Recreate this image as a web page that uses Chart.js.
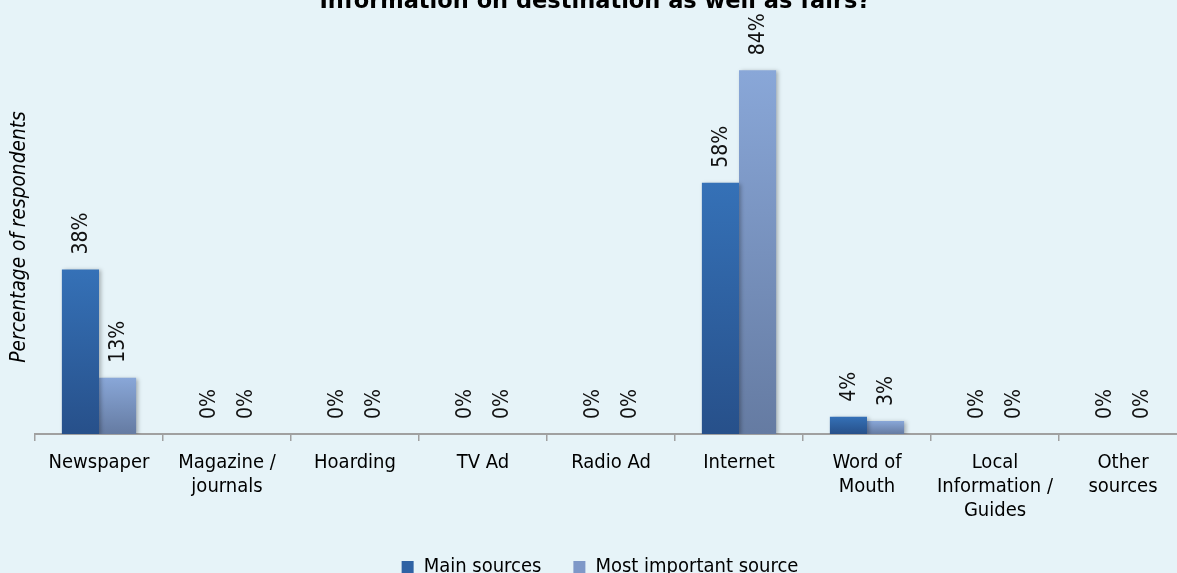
<!DOCTYPE html>
<html>
<head>
<meta charset="utf-8">
<script src="https://cdn.jsdelivr.net/npm/chart.js@4/dist/chart.umd.min.js"></script>
<style>
  html, body { margin: 0; padding: 0; overflow: hidden; background: #E6F3F8; }
  #wrap { position: absolute; left: 0; top: 0; }
  canvas { display: block; }
</style>
</head>
<body>
<div id="wrap"><canvas id="chart" width="1200" height="585"></canvas></div>
<script>
// Source categories (multi-line tick labels)
const categories = [
  ['Newspaper'],
  ['Magazine /', 'journals'],
  ['Hoarding'],
  ['TV Ad'],
  ['Radio Ad'],
  ['Internet'],
  ['Word of', 'Mouth'],
  ['Local', 'Information /', 'Guides'],
  ['Other', 'sources']
];
// Percentage of respondents per source
const mainSources   = [38, 0, 0, 0, 0, 58, 4, 0, 0];
const mostImportant = [13, 0, 0, 0, 0, 84, 3, 0, 0];
const seriesNames = ['Main sources', 'Most important source'];
const yAxisTitle = 'Percentage of respondents';
const chartTitle = 'Information on destination as well as fairs?';

const FONT = "'DejaVu Sans Condensed', 'DejaVu Sans', sans-serif";

// Vertical gradient spanning each bar's own height
function barGradient(topColor, bottomColor) {
  return function (ctx) {
    const chart = ctx.chart;
    const y = chart.scales && chart.scales.y;
    if (ctx.type !== 'data' || !y) return topColor;
    const y0 = y.getPixelForValue(0);
    const y1 = y.getPixelForValue(ctx.raw);
    if (Math.abs(y0 - y1) < 1) return topColor;
    const g = chart.ctx.createLinearGradient(0, y1, 0, y0);
    g.addColorStop(0, topColor);
    g.addColorStop(1, bottomColor);
    return g;
  };
}

// Bar shadows, rotated value labels, chart title and y-axis title
const decorations = {
  id: 'decorations',
  afterLayout(chart) {
    // centre the legend on the whole figure rather than the plot area
    const lg = chart.legend;
    if (lg) {
      lg.left -= 11; lg.right -= 11;
      lg.top += 2; lg.bottom += 2;
    }
  },
  beforeDatasetsDraw(chart) {
    const c = chart.ctx;
    c.save();
    c.shadowColor = 'rgba(0,0,0,0.28)';
    c.shadowBlur = 4;
    c.shadowOffsetX = 2;
    c.shadowOffsetY = 1;
  },
  afterDatasetsDraw(chart) {
    const c = chart.ctx;
    c.restore();
    c.save();
    c.fillStyle = '#111';
    c.font = '21px ' + FONT;
    c.textAlign = 'left';
    c.textBaseline = 'middle';
    chart.data.datasets.forEach((ds, di) => {
      const meta = chart.getDatasetMeta(di);
      meta.data.forEach((bar, i) => {
        c.save();
        c.translate(bar.x, bar.y - 15);
        c.rotate(-Math.PI / 2);
        c.fillText(ds.data[i] + '%', 0, 1);
        c.restore();
      });
    });
    c.restore();
  },
  afterDraw(chart) {
    const c = chart.ctx;
    c.save();
    c.fillStyle = '#000';
    c.font = "bold 22.5px 'DejaVu Sans', sans-serif";
    c.textAlign = 'center';
    c.textBaseline = 'alphabetic';
    c.fillText(chartTitle, 595, 8);
    c.font = 'italic 20.7px ' + FONT;
    c.translate(20, 237);
    c.rotate(-Math.PI / 2);
    c.textBaseline = 'middle';
    c.fillText(yAxisTitle, 0, 0);
    c.restore();
  }
};

new Chart(document.getElementById('chart'), {
  type: 'bar',
  data: {
    labels: categories,
    datasets: [
      {
        label: seriesNames[0],
        data: mainSources,
        backgroundColor: barGradient('#3571B7', '#27508A'),
        borderWidth: 0
      },
      {
        label: seriesNames[1],
        data: mostImportant,
        backgroundColor: barGradient('#89A7D8', '#657BA2'),
        borderWidth: 0
      }
    ]
  },
  options: {
    responsive: false,
    animation: false,
    devicePixelRatio: 1,
    layout: { padding: { left: 35, right: 13, top: 1, bottom: 0 } },
    datasets: { bar: { categoryPercentage: 0.58, barPercentage: 1.0 } },
    scales: {
      x: {
        grid: {
          display: true,
          drawOnChartArea: false,
          drawTicks: true,
          tickLength: 7,
          color: '#A0A0A0',
          lineWidth: 1.5,
          offset: true
        },
        border: { display: true, color: '#A0A0A0', width: 2 },
        ticks: {
          color: '#000',
          font: { family: FONT, size: 20 },
          padding: 10,
          maxRotation: 0,
          minRotation: 0,
          autoSkip: false
        },
        afterFit(scale) { scale.height = 89; }
      },
      y: {
        display: false,
        min: 0,
        max: 100
      }
    },
    plugins: {
      legend: {
        position: 'bottom',
        labels: {
          boxWidth: 12,
          boxHeight: 12,
          padding: 32,
          color: '#000',
          font: { family: FONT, size: 20 },
          generateLabels(chart) {
            const fills = ['#2F62A4', '#7E98C8'];
            return chart.data.datasets.map((ds, i) => ({
              text: ds.label,
              fillStyle: fills[i],
              strokeStyle: fills[i],
              lineWidth: 0,
              hidden: false,
              datasetIndex: i,
              fontColor: '#000'
            }));
          }
        }
      },
      title: { display: false },
      tooltip: { enabled: false }
    }
  },
  plugins: [decorations]
});
</script>
</body>
</html>
